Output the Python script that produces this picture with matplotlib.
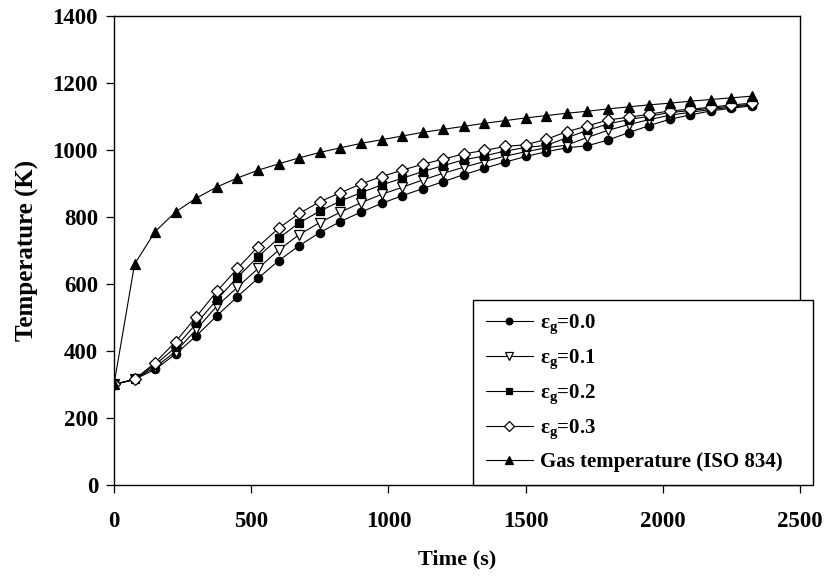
import matplotlib
matplotlib.use("Agg")
import matplotlib.pyplot as plt

# Time axis (s)
time_s = [0, 75, 150, 225, 300, 375, 450, 525, 600, 675, 750, 825, 900, 975,
          1050, 1125, 1200, 1275, 1350, 1425, 1500, 1575, 1650, 1725, 1800,
          1875, 1950, 2025, 2100, 2175, 2250, 2325]

# Member temperature (K) for each gas emissivity
temp_eg00 = [300, 315, 345, 391, 445, 505, 562, 617, 669, 714, 753, 786, 814, 840,
             863, 884, 905, 926, 945, 963, 980, 994, 1006, 1012, 1029,
             1051, 1072, 1091, 1104, 1116, 1124, 1131]
temp_eg01 = [300, 315, 352, 398, 464, 534, 590, 646, 701, 747, 783, 814, 842, 867,
             888, 910, 930, 948, 965, 981, 994, 1006, 1014, 1037, 1058,
             1075, 1090, 1103, 1112, 1120, 1127, 1134]
temp_eg02 = [300, 315, 359, 411, 482, 553, 620, 681, 736, 782, 817, 847, 872, 895,
             915, 935, 953, 970, 982, 996, 1007, 1013, 1036, 1058, 1077,
             1090, 1100, 1111, 1117, 1124, 1130, 1136]
temp_eg03 = [300, 315, 365, 428, 502, 578, 646, 711, 766, 810, 845, 872, 898, 920,
             939, 957, 972, 988, 998, 1010, 1015, 1031, 1054, 1071, 1089,
             1097, 1106, 1116, 1121, 1127, 1134, 1139]
# Furnace gas temperature (K)
temp_gas = [300, 659, 756, 815, 856, 889, 916, 939, 958, 976, 992, 1006, 1019, 1030,
            1041, 1052, 1061, 1070, 1079, 1087, 1095, 1102, 1109, 1115, 1122,
            1128, 1134, 1139, 1145, 1150, 1155, 1160]

series_labels = [r"$\mathrm{\varepsilon}_{\mathrm{g}}$=0.0",
                 r"$\mathrm{\varepsilon}_{\mathrm{g}}$=0.1",
                 r"$\mathrm{\varepsilon}_{\mathrm{g}}$=0.2",
                 r"$\mathrm{\varepsilon}_{\mathrm{g}}$=0.3",
                 "Gas temperature (ISO 834)"]

x_ticks = [0, 500, 1000, 1500, 2000, 2500]
y_ticks = [0, 200, 400, 600, 800, 1000, 1200, 1400]

plt.rcParams["font.family"] = ["Liberation Serif", "DejaVu Serif"]
plt.rcParams["font.weight"] = "bold"
plt.rcParams["mathtext.fontset"] = "custom"
plt.rcParams["mathtext.rm"] = "Liberation Serif:bold"
plt.rcParams["mathtext.it"] = "Liberation Serif:bold"
plt.rcParams["mathtext.bf"] = "Liberation Serif:bold"

W, H = 826, 580
fig = plt.figure(figsize=(W / 100, H / 100), dpi=100)
ax = fig.add_axes([114 / W, 1 - 485 / H, (800 - 114) / W, (485 - 15.7) / H])

styles = [
    dict(marker="o", mfc="black", ms=6.0),
    dict(marker="v", mfc="white", ms=7.0),
    dict(marker="s", mfc="black", ms=5.8),
    dict(marker="D", mfc="white", ms=6.4),
    dict(marker="^", mfc="black", ms=7.2),
]
data = [temp_eg00, temp_eg01, temp_eg02, temp_eg03, temp_gas]

handles = []
for ys, st, lab in zip(data, styles, series_labels):
    h, = ax.plot(time_s, ys, color="black", lw=0.8, mec="black", mew=0.9,
                 label=lab, **st)
    handles.append(h)

ax.set_xlim(0, 2500)
ax.set_ylim(0, 1400)
ax.set_xticks(x_ticks)
ax.set_yticks(y_ticks)
ax.tick_params(axis="both", direction="out", length=5.5, width=0.9,
               labelsize=16.5, top=False, right=False)
ax.tick_params(axis="x", pad=13)
ax.tick_params(axis="y", pad=6)
for sp in ax.spines.values():
    sp.set_linewidth(1.0)

ax.set_xlabel("Time (s)", fontsize=16, fontweight="bold", labelpad=13)
ax.set_ylabel("Temperature (K)", fontsize=18, fontweight="bold", labelpad=10)

leg = fig.legend(handles=handles, labels=series_labels,
                 loc="lower left",
                 bbox_to_anchor=(473 / W, 1 - 485 / H, (813 - 473) / W, 0.05),
                 mode="expand", borderaxespad=0, frameon=True, fancybox=False,
                 edgecolor="black", framealpha=1, fontsize=15,
                 handlelength=2.3, handletextpad=0.3, labelspacing=0.55,
                 borderpad=0.6, markerscale=0.8)
leg.get_frame().set_linewidth(1.0)

fig.savefig("out.png", dpi=100)
